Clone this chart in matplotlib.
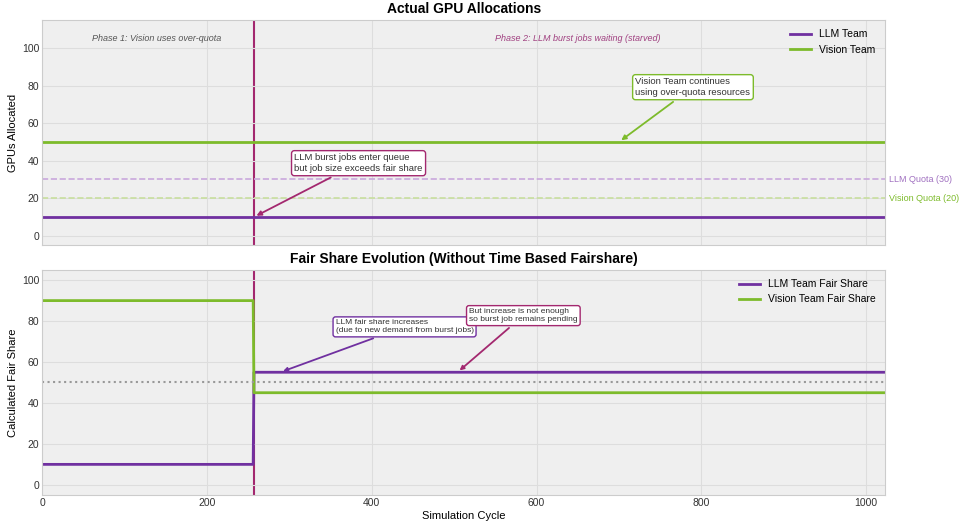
import matplotlib
matplotlib.use("Agg")
import matplotlib.pyplot as plt
import numpy as np

cycles = np.arange(0, 1024)
burst_cycle = 257
llm_alloc = np.where(cycles < burst_cycle, 10, 10)
vision_alloc = np.where(cycles < burst_cycle, 50, 50)
llm_fs = np.where(cycles < burst_cycle, 10, 55)
vision_fs = np.where(cycles < burst_cycle, 90, 45)
llm_quota = 30
vision_quota = 20
equal_share = 50

PURPLE = "#7030A0"
GREEN = "#7DBB2B"
MAGENTA = "#A3286F"

plt.rcParams['font.family'] = ['Liberation Sans', 'DejaVu Sans']
fig, (ax1, ax2) = plt.subplots(2, 1, figsize=(9.6, 5.25), dpi=100, sharex=True)
fig.subplots_adjust(left=0.044, right=0.922, top=0.962, bottom=0.057, hspace=0.11)

for ax in (ax1, ax2):
    ax.set_facecolor("#efefef")
    ax.grid(True, color="#dddddd", linewidth=0.8)
    for s in ax.spines.values():
        s.set_color("#cccccc")
    ax.tick_params(colors="#333333", labelsize=7.5, length=0, pad=2)
    ax.axvline(burst_cycle, color=MAGENTA, lw=1.5, zorder=1)

ax1.plot(cycles, llm_alloc, color=PURPLE, lw=2, label="LLM Team")
ax1.plot(cycles, vision_alloc, color=GREEN, lw=2, label="Vision Team")
ax1.axhline(llm_quota, color="#c9a8dc", ls="--", lw=1.2)
ax1.axhline(vision_quota, color="#c8df9e", ls="--", lw=1.2)
ax1.text(1.005, (llm_quota + 5) / 120, "LLM Quota (30)", transform=ax1.transAxes, color="#a070c0", fontsize=6.5, va="center")
ax1.text(1.005, (vision_quota + 5) / 120, "Vision Quota (20)", transform=ax1.transAxes, color=GREEN, fontsize=6.5, va="center")
ax1.set_ylim(-5, 115)
ax1.set_title("Actual GPU Allocations", fontsize=10, fontweight="bold", pad=5)
ax1.set_ylabel("GPUs Allocated", fontsize=8, labelpad=3)
ax1.text(60, 105, "Phase 1: Vision uses over-quota", fontsize=6.5, style="italic", color="#555555", va="center")
ax1.text(550, 105, "Phase 2: LLM burst jobs waiting (starved)", fontsize=6.5, style="italic", color="#a04080", va="center")
ax1.annotate("LLM burst jobs enter queue\nbut job size exceeds fair share", xy=(257, 10), xytext=(306, 33.5),
             fontsize=6.8, color="#333333", va="bottom",
             bbox=dict(boxstyle="round,pad=0.3", fc="white", ec=MAGENTA),
             arrowprops=dict(arrowstyle="-|>", color=MAGENTA, lw=1.3))
ax1.annotate("Vision Team continues\nusing over-quota resources", xy=(700, 50), xytext=(720, 74),
             fontsize=6.8, color="#333333", va="bottom",
             bbox=dict(boxstyle="round,pad=0.3", fc="white", ec=GREEN),
             arrowprops=dict(arrowstyle="-|>", color=GREEN, lw=1.3))
ax1.legend(loc="upper right", fontsize=7.5, frameon=False)

ax2.plot(cycles, llm_fs, color=PURPLE, lw=2, label="LLM Team Fair Share")
ax2.plot(cycles, vision_fs, color=GREEN, lw=2, label="Vision Team Fair Share")
ax2.axhline(equal_share, color="#999999", ls=":", lw=1.5)
ax2.set_ylim(-5, 105)
ax2.set_xlim(0, 1023)
ax2.set_title("Fair Share Evolution (Without Time Based Fairshare)", fontsize=10, fontweight="bold", pad=5)
ax2.set_ylabel("Calculated Fair Share", fontsize=8, labelpad=3)
ax2.set_xlabel("Simulation Cycle", fontsize=8, labelpad=2)
ax2.annotate("LLM fair share increases\n(due to new demand from burst jobs)", xy=(289, 55), xytext=(356, 73.5),
             fontsize=6, color="#333333", va="bottom",
             bbox=dict(boxstyle="round,pad=0.3", fc="white", ec=PURPLE),
             arrowprops=dict(arrowstyle="-|>", color=PURPLE, lw=1.3))
ax2.annotate("But increase is not enough\nso burst job remains pending", xy=(504, 55), xytext=(518, 79),
             fontsize=6, color="#333333", va="bottom",
             bbox=dict(boxstyle="round,pad=0.3", fc="white", ec=MAGENTA),
             arrowprops=dict(arrowstyle="-|>", color=MAGENTA, lw=1.3))
ax2.legend(loc="upper right", fontsize=7.5, frameon=False)

fig.savefig("out.png", dpi=100)
